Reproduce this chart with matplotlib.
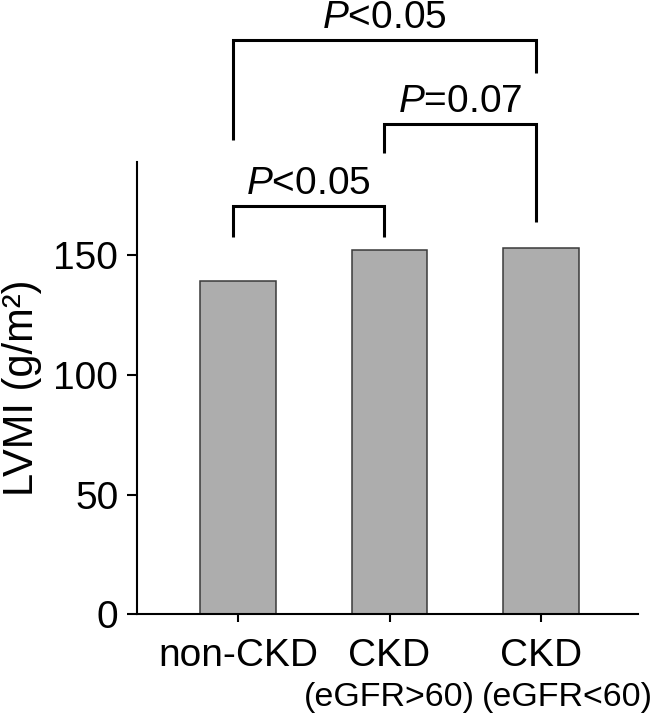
import matplotlib
matplotlib.use('Agg')
import matplotlib.pyplot as plt
import numpy as np

plt.rcParams['font.family'] = ['Liberation Sans', 'DejaVu Sans']
plt.rcParams['mathtext.fontset'] = 'custom'
plt.rcParams['mathtext.rm'] = 'Liberation Sans'
plt.rcParams['mathtext.it'] = 'Liberation Sans:italic'

groups = ['non-CKD', 'CKD', 'CKD']
subgroups = ['', '(eGFR>60)', '(eGFR<60)']
lvmi = [139.2, 152.2, 153.0]
yticks = [0, 50, 100, 150]

# comparisons: (left group, right group, p text)
comparisons = [(0, 1, '<0.05'), (1, 2, '=0.07'), (0, 2, '<0.05')]

fig = plt.figure(figsize=(6.56, 7.13), dpi=100)
ax = fig.add_axes([0.2088, 0.1384, 0.7637, 0.6344])

x = np.arange(len(groups))
ax.bar(x, lvmi, width=0.5, color='#adadad', edgecolor='#3a3a3a', linewidth=1.1)

ax.set_xlim(-0.667, 2.64)
ax.set_ylim(0, 189)
ax.set_yticks(yticks)
ax.set_xticks(x)
ax.set_xticklabels(groups, fontsize=28)
ax.tick_params(axis='y', labelsize=28, length=7.5, width=1.5, pad=6)
ax.tick_params(axis='x', length=6, width=1.5, pad=11)
for s in ['top', 'right']:
    ax.spines[s].set_visible(False)
for s in ['left', 'bottom']:
    ax.spines[s].set_linewidth(1.5)
ax.set_ylabel('LVMI (g/m²)', fontsize=30, labelpad=8)

# sub labels under CKD groups
sub_shift = [0, 0, 19]
for i, t in enumerate(subgroups):
    if t:
        ax.annotate(t, xy=(x[i], 0), xycoords=('data', 'data'),
                    xytext=(sub_shift[i], -66), textcoords='offset points',
                    ha='center', va='baseline', fontsize=24.5, annotation_clip=False)

# significance brackets: (horizontal y, left leg bottom, right leg bottom)
bracket_y = [(170.6, 157.7, 157.7), (204.8, 192.7, 163.9), (239.9, 198.2, 226.2)]
off = -0.035
for (a, b, p), (yh, yl, yr) in zip(comparisons, bracket_y):
    xa, xb = x[a] + off, x[b] + off
    ax.plot([xa, xa, xb, xb], [yl, yh, yh, yr], color='black', lw=2.2,
            clip_on=False, solid_capstyle='butt', solid_joinstyle='miter')
    ax.text((xa + xb) / 2, yh + 5, r'$\mathit{P}$' + p, ha='center', va='baseline',
            fontsize=28, clip_on=False)

fig.savefig('out.png', dpi=100)
